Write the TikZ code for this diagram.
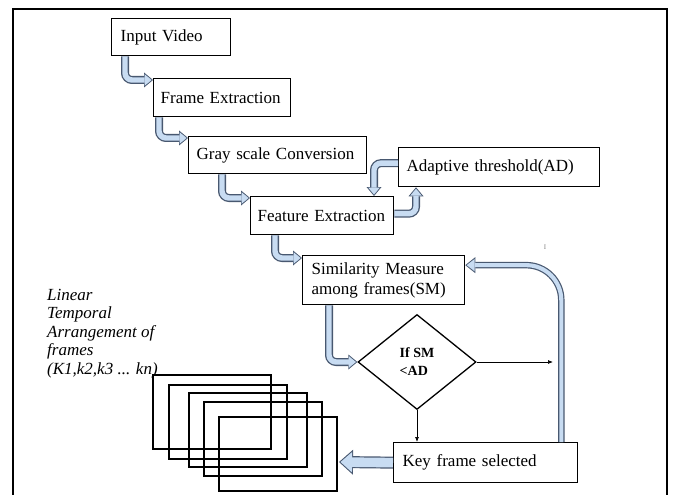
\documentclass[tikz,border=0pt]{standalone}
\usepackage{fontspec}
\setmainfont{Liberation Serif}
\usetikzlibrary{shapes.geometric,arrows.meta,positioning,calc}
\definecolor{ArrowFill}{RGB}{200,220,242}
\definecolor{ArrowEdge}{RGB}{72,88,112}
\newcommand{\boxfont}{\fontsize{17}{20}\selectfont}
\tikzset{
  stage/.style={rectangle,draw=black,line width=1.3pt,fill=white,anchor=north west,
                font=\boxfont,align=left,inner xsep=9pt,inner ysep=0pt},
  decision/.style={diamond,draw=black,line width=1.3pt,minimum width=118pt,minimum height=95pt,
                inner sep=0pt,align=left,font=\bfseries\fontsize{14}{18}\selectfont},
  framenote/.style={anchor=north west,align=left,inner sep=0pt,
                font=\itshape\fontsize{17}{18.5}\selectfont},
  fatarrow/.style={line width=8pt,draw=ArrowEdge,rounded corners=7pt,
                -{Triangle[length=9pt,width=15pt,line width=0pt]},
                postaction={draw=ArrowFill,line width=5.4pt,shorten >=1.4pt,
                -{Triangle[length=7pt,width=11.5pt,line width=0pt]}}},
  looparrow/.style={line width=6.5pt,draw=ArrowEdge,rounded corners=35pt,
                -{Triangle[length=10pt,width=16pt,line width=0pt]},
                postaction={draw=ArrowFill,line width=4.1pt,shorten >=1.4pt,
                -{Triangle[length=8pt,width=12.5pt,line width=0pt]}}},
  widearrow/.style={line width=12pt,draw=ArrowEdge,
                -{Triangle[length=14pt,width=25pt,line width=0pt]},
                postaction={draw=ArrowFill,line width=9.6pt,shorten >=1.6pt,
                -{Triangle[length=11.5pt,width=20.5pt,line width=0pt]}}},
  thinarrow/.style={line width=0.7pt,-{Latex[length=5pt,width=4pt]}},
}

\begin{document}
\begin{tikzpicture}[x=1pt,y=-1pt]
  \useasboundingbox (0,0) rectangle (673,495);
  \draw[line width=1.3pt] (13,9) rectangle (667,520);

  \node[stage,text width=101pt,minimum height=37pt] (video) at (111,18) {Input Video};
  \node[stage,text width=123pt,minimum height=38pt,inner xsep=7pt] (frames) at (153,78) {Frame Extraction};
  \node[stage,text width=162pt,minimum height=37pt,inner xsep=8pt] (gray) at (188,136) {Gray scale Conversion};
  \node[stage,text width=129pt,minimum height=38pt,inner xsep=7pt] (feature) at (250,196) {Feature Extraction};
  \node[stage,text width=185pt,minimum height=39pt,inner xsep=8pt] (adaptive) at (398,147) {Adaptive threshold(AD)};
  \node[stage,text width=144pt,minimum height=49pt] (similar) at (302,255) {Similarity Measure\\among frames(SM)};
  \node[decision] (decide) at (417,362) {If SM\\<AD};
  \node[stage,text width=166pt,minimum height=40pt] (keyframe) at (393,442) {Key frame selected};
  \node[framenote] (arrange) at (47,289) {Linear\\Temporal\\Arrangement of\\frames\\(K1,k2,k3 ... kn)};
  \node[font=\fontsize{7}{7}\selectfont,text=gray] (tick) at (545,247) {I};
  \coordinate (stackend) at (339,462);
  \coordinate (rightend) at (553,362);

  \foreach \fx/\fy in {153/375,169/385,189/393,204/402,219/417}
    \draw[line width=1.3pt] (\fx,\fy) rectangle ++(118,74);

  \draw[fatarrow] ([xshift=14pt]video.south west) |- ([yshift=-2pt]frames.north west);
  \draw[fatarrow] ([xshift=6pt]frames.south west) |- ([yshift=-2pt]gray.north west);
  \draw[fatarrow] ([xshift=34pt]gray.south west) |- ([yshift=-2pt]feature.north west);
  \draw[fatarrow] ([xshift=25pt]feature.south west) |- ([yshift=-3pt]similar.north west);
  \draw[fatarrow] ([xshift=27pt]similar.south west) |- (decide.west);
  \draw[fatarrow] ([yshift=2pt]feature.east) -| ([xshift=18pt]adaptive.south west);
  \draw[fatarrow] ([yshift=4pt]adaptive.west) -| ([xshift=124pt]feature.north west);
  \draw[looparrow] ([xshift=-17pt]keyframe.north east) |- ([yshift=15pt]similar.east);
  \draw[widearrow] (keyframe.west) -- (stackend);
  \draw[thinarrow] (decide.south) -- (decide.south |- keyframe.north);
  \draw[thinarrow] (decide.east) -- (rightend);
\end{tikzpicture}
\end{document}
